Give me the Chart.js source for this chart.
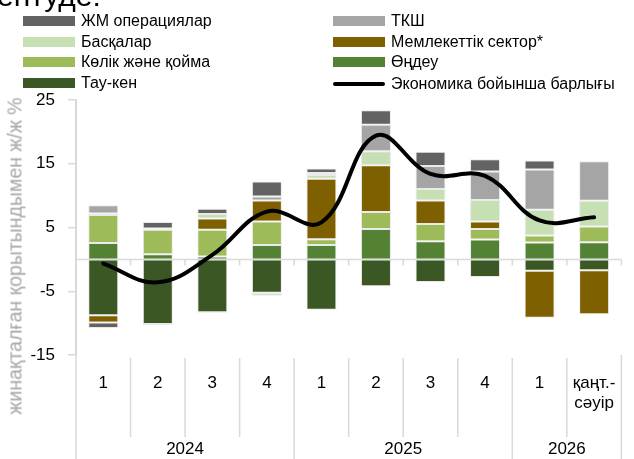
<!DOCTYPE html>
<html><head><meta charset="utf-8">
<script src="https://cdn.jsdelivr.net/npm/chart.js@4/dist/chart.umd.min.js"></script>
<style>
html,body{margin:0;padding:0;background:#fff;}
#wrap{position:relative;width:634px;height:459px;overflow:hidden;font-family:"Liberation Sans",Arial,sans-serif;}
canvas{position:absolute;left:0;top:0;}
.lg{position:absolute;height:20px;font-size:16px;color:#000;white-space:nowrap;}
.sw{position:absolute;left:0;top:5px;width:52px;height:10px;}
.sl{position:absolute;left:0;top:8px;width:52px;height:4px;background:#000;border-radius:2px;}
.lt{position:absolute;left:58px;top:0;line-height:20px;}
#title{position:absolute;left:-3px;top:-19px;font-size:30px;line-height:30px;color:#000;white-space:nowrap;}
#ytitle{position:absolute;left:15px;top:256px;transform:translate(-50%,-50%) rotate(-90deg);font-size:19.5px;color:#a6a6a6;white-space:nowrap;}
</style></head>
<body>
<div id="wrap">
<canvas id="c" width="634" height="459"></canvas>
<div id="title">ентуде:</div>
<div id="ytitle">жинақталған қорытындымен ж/ж %</div>
</div>
<script>
// ---- data ----
const categories = ['1','2','3','4','1','2','3','4','1',['қаңт.-','сәуір']];
const years = ['2024','2025','2026'];
const yearSpans = [4,4,2];
const yTicks = [-15,-5,5,15,25];

const tauKen   = [-8.75,-10.15,-8.3,-5.25,-7.9,-4.2,-3.55,-2.75,-1.8,-1.7];
const ondeu    = [2.55,0.8,0.45,2.25,2.25,4.75,2.85,3.1,2.65,2.7];
const kolik    = [4.4,3.85,4.2,3.7,0.9,2.7,2.7,1.65,1.1,2.45];
const memleket = [-1.15,0,1.75,3.3,9.5,7.3,3.7,1.2,-7.35,-6.9];
const baskalar = [0.25,0.2,0.7,-0.45,0.6,2.2,1.8,3.35,4.05,4.05];
const tksh     = [1.3,-0.2,-0.15,0.6,0.3,4.15,3.6,4.5,6.3,6.2];
const zhm      = [-0.85,1.0,0.85,2.35,0.7,2.3,2.25,1.9,1.4,0];
const economy  = [-0.65,-3.6,0.7,7.5,5.8,19.4,13.4,13.1,6.1,6.6];

const names = {
  tauKen:'Тау-кен', ondeu:'Өңдеу', kolik:'Көлік және қойма', memleket:'Мемлекеттік сектор*',
  baskalar:'Басқалар', tksh:'ТКШ', zhm:'ЖМ операциялар', economy:'Экономика бойынша барлығы'
};

// ---- styles ----
const colors = {
  tauKen:'#3a5724', ondeu:'#548235', kolik:'#9ebb59', memleket:'#7f6000',
  baskalar:'#c6e0b4', tksh:'#a5a5a5', zhm:'#636363'
};
const barSeries = [['tauKen',tauKen],['ondeu',ondeu],['kolik',kolik],['memleket',memleket],
                   ['baskalar',baskalar],['tksh',tksh],['zhm',zhm]];

const datasets = barSeries.map(([k,d])=>({
  type:'bar', label:names[k], data:d, backgroundColor:colors[k],
  borderColor:'rgba(225,225,225,0.7)', borderWidth:1, borderSkipped:false,
  stack:'s', order:1, barPercentage:0.55, categoryPercentage:1
}));
datasets.push({
  type:'line', label:names.economy, data:economy, borderColor:'#000', borderWidth:4,
  pointRadius:0, tension:0.4, fill:false, stack:'line', order:0, borderCapStyle:'round'
});

// ---- legend (HTML) ----
const legendLayout = [
  ['zhm',23,21],['baskalar',23,42],['kolik',23,62],['tauKen',23,83],
  ['tksh',333,21],['memleket',333,42],['ondeu',333,62],['economy',333,84]
];
const wrap = document.getElementById('wrap');
legendLayout.forEach(([k,x,yc])=>{
  const d = document.createElement('div');
  d.className='lg'; d.style.left=x+'px'; d.style.top=(yc-10)+'px';
  const s = document.createElement('div');
  if(k==='economy'){ s.className='sl'; } else { s.className='sw'; s.style.background=colors[k]; }
  const t = document.createElement('div'); t.className='lt'; t.textContent=names[k];
  d.appendChild(s); d.appendChild(t); wrap.appendChild(d);
});

const GRID='#d9d9d9';
const decor = {
  id:'decor',
  beforeDatasetsDraw(chart){
    const {ctx, chartArea:a, scales:{x,y}} = chart;
    const y0 = y.getPixelForValue(0);
    const n = categories.length;
    ctx.save();
    ctx.strokeStyle=GRID; ctx.lineWidth=1.5;
    ctx.beginPath(); ctx.moveTo(a.left,y0); ctx.lineTo(a.right,y0);
    for(let i=1;i<=n;i++){
      const bx = i<n ? (x.getPixelForValue(i-1)+x.getPixelForValue(i))/2 : a.right;
      ctx.moveTo(bx,y0); ctx.lineTo(bx,y0+6);
    }
    ctx.stroke(); ctx.restore();
  },
  afterDraw(chart){
    const {ctx, chartArea:a, scales:{x}} = chart;
    const H = chart.height;
    const n = categories.length;
    ctx.save();
    ctx.strokeStyle=GRID; ctx.lineWidth=1.5;
    ctx.beginPath();
    ctx.moveTo(a.left,a.bottom); ctx.lineTo(a.left,H);
    ctx.moveTo(a.right,a.bottom); ctx.lineTo(a.right,H);
    const yearEnds=[]; let acc=0; yearSpans.forEach(s=>{acc+=s; yearEnds.push(acc);});
    for(let i=1;i<n;i++){
      const bx=(x.getPixelForValue(i-1)+x.getPixelForValue(i))/2;
      ctx.moveTo(bx,a.bottom+3);
      ctx.lineTo(bx, yearEnds.includes(i) ? H : 437);
    }
    ctx.stroke();
    ctx.fillStyle='#000'; ctx.font='17px "Liberation Sans", Arial, sans-serif';
    ctx.textAlign='center'; ctx.textBaseline='middle';
    let start=0;
    years.forEach((yr,j)=>{
      const end=start+yearSpans[j]-1;
      const cx=(x.getPixelForValue(start)+x.getPixelForValue(end))/2;
      ctx.fillText(yr,cx,449);
      start=end+1;
    });
    ctx.restore();
  }
};

new Chart(document.getElementById('c'),{
  data:{labels:categories, datasets},
  options:{
    responsive:false, animation:false, devicePixelRatio:1,
    layout:{padding:{top:100,right:12,bottom:0,left:0}},
    plugins:{legend:{display:false}, tooltip:{enabled:false}},
    scales:{
      x:{
        stacked:true, offset:true,
        grid:{display:false, drawTicks:false}, border:{display:false},
        ticks:{color:'#000', font:{size:17, family:'"Liberation Sans", Arial, sans-serif'}, padding:18, maxRotation:0, autoSkip:false},
        afterFit(s){ s.height=104; }
      },
      y:{
        stacked:true, min:-15, max:25,
        afterBuildTicks(s){ s.ticks = yTicks.map(v=>({value:v})); },
        grid:{drawOnChartArea:false, drawTicks:true, tickLength:8, color:GRID, lineWidth:1.5},
        border:{display:true, color:GRID, width:2},
        ticks:{color:'#000', font:{size:17, family:'"Liberation Sans", Arial, sans-serif'}, padding:13},
        afterFit(s){ s.width=76; }
      }
    }
  },
  plugins:[decor]
});
</script>
</body></html>
